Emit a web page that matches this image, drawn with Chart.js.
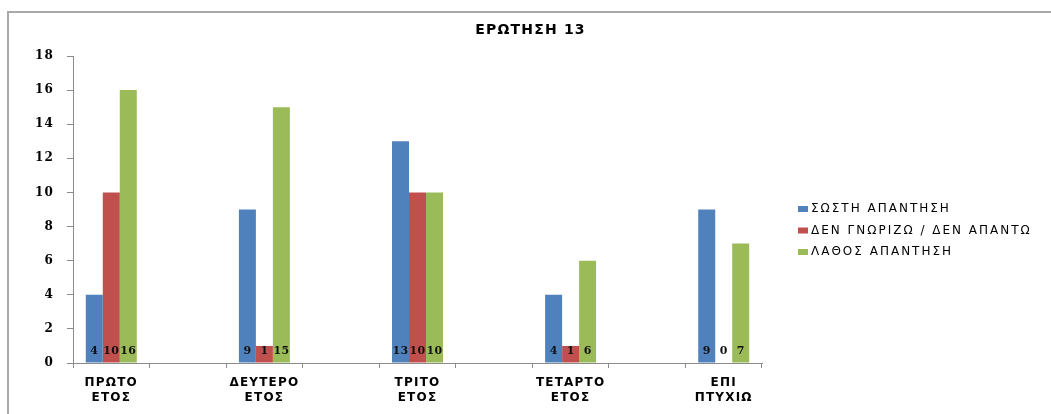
<!DOCTYPE html>
<html lang="el">
<head>
<meta charset="utf-8">
<title>ΕΡΩΤΗΣΗ 13</title>
<script src="https://cdn.jsdelivr.net/npm/chart.js@4.4.1/dist/chart.umd.min.js"></script>
<style>
    html, body { margin: 0; padding: 0; background: #fff; overflow: hidden; }
    .plaisio {
        position: absolute; left: 7px; top: 11px; width: 1100px; height: 450px;
        border-top: 2px solid #a9a9a9; border-left: 2px solid #a9a9a9;
    }
    .thesi { position: absolute; left: 0; top: 0; width: 1051px; height: 414px; }
</style>
</head>
<body>
<div class="plaisio"></div>
<div class="thesi"><canvas id="grafima"></canvas></div>
<script>
// ============================================
// ΕΡΩΤΗΣΗ 13 - ΑΠΑΝΤΗΣΕΙΣ ΑΝΑ ΕΤΟΣ
// ============================================

// Δεδομένα
const etos = [['ΠΡΩΤΟ', 'ΕΤΟΣ'], ['ΔΕΥΤΕΡΟ', 'ΕΤΟΣ'], ['ΤΡΙΤΟ', 'ΕΤΟΣ'], ['ΤΕΤΑΡΤΟ', 'ΕΤΟΣ'], ['ΕΠΙ', 'ΠΤΥΧΙΩ']];
const sosti = [4, 9, 13, 4, 9];
const denGnorizo = [10, 1, 10, 1, 0];
const lathos = [16, 15, 10, 6, 7];
const seires = ['ΣΩΣΤΗ ΑΠΑΝΤΗΣΗ', 'ΔΕΝ ΓΝΩΡΙΖΩ / ΔΕΝ ΑΠΑΝΤΩ', 'ΛΑΘΟΣ ΑΠΑΝΤΗΣΗ'];
const yTicks = [0, 2, 4, 6, 8, 10, 12, 14, 16, 18];

const xromata = ['#4F81BD', '#C0504D', '#9BBB59'];
const axonas = '#8c8c8c';

// κενή κατηγορία ανάμεσα σε κάθε έτος
function meKena(arr, keno) {
    return arr.flatMap((v, i) => i < arr.length - 1 ? [v, keno] : [v]);
}

// λίγο πιο αραιά γράμματα στα κείμενα του καμβά
const araiosi = {
    id: 'araiosi',
    beforeUpdate(chart) { chart.ctx.letterSpacing = '1.2px'; },
    beforeDraw(chart) { chart.ctx.letterSpacing = '1.2px'; }
};

// υπόμνημα δεξιά, σαν κουτί του layout
const ypomnima = {
    id: 'ypomnima',
    start(chart) {
        const box = {
            position: 'right',
            weight: 10,
            fullSize: false,
            options: {},
            width: 0,
            height: 0,
            isHorizontal() { return false; },
            update(maxWidth, maxHeight) {
                this.width = 289;
                this.height = maxHeight;
            },
            draw() {
                const ctx = chart.ctx;
                ctx.save();
                ctx.font = '12px "DejaVu Sans"';
                ctx.letterSpacing = '2px';
                ctx.textAlign = 'left';
                ctx.textBaseline = 'middle';
                chart.data.datasets.forEach((ds, i) => {
                    const y = this.top + 153 + i * 21.5;
                    ctx.fillStyle = ds.backgroundColor;
                    ctx.fillRect(this.left + 36, y - 3, 10, 6);
                    ctx.fillStyle = '#000';
                    ctx.fillText(ds.label, this.left + 49, y);
                });
                ctx.restore();
            }
        };
        Chart.layouts.addBox(chart, box);
    }
};

// τιμές στη βάση κάθε στήλης
const times = {
    id: 'times',
    afterDatasetsDraw(chart) {
        const ctx = chart.ctx;
        const y0 = chart.scales.y.getPixelForValue(0);
        ctx.save();
        ctx.font = 'bold 11px "DejaVu Serif"';
        ctx.letterSpacing = '0.3px';
        ctx.fillStyle = '#111';
        ctx.textAlign = 'center';
        ctx.textBaseline = 'middle';
        chart.data.datasets.forEach((ds, i) => {
            chart.getDatasetMeta(i).data.forEach((bar, j) => {
                const v = ds.data[j];
                if (v === null || v === undefined) return;
                ctx.fillText(String(v), bar.x, y0 - 12);
            });
        });
        ctx.restore();
    }
};

new Chart(document.getElementById('grafima'), {
    type: 'bar',
    data: {
        labels: meKena(etos, ''),
        datasets: [
            { label: seires[0], data: meKena(sosti, null), backgroundColor: xromata[0] },
            { label: seires[1], data: meKena(denGnorizo, null), backgroundColor: xromata[1] },
            { label: seires[2], data: meKena(lathos, null), backgroundColor: xromata[2] }
        ]
    },
    options: {
        responsive: true,
        maintainAspectRatio: false,
        animation: false,
        layout: { padding: { top: 14, left: 10, right: 0, bottom: 10 } },
        datasets: { bar: { categoryPercentage: 0.666, barPercentage: 1 } },
        plugins: {
            legend: { display: false },
            tooltip: { enabled: false },
            title: {
                display: true,
                text: 'ΕΡΩΤΗΣΗ 13',
                color: '#000',
                font: { family: 'DejaVu Sans', size: 14, weight: 'bold', lineHeight: 1.2 },
                padding: { top: 7.6, bottom: 17.6 }
            }
        },
        scales: {
            x: {
                grid: { drawOnChartArea: false, drawTicks: true, tickLength: 5, color: axonas, offset: true },
                border: { color: axonas },
                ticks: {
                    color: '#000',
                    padding: 7.8,
                    maxRotation: 0,
                    autoSkip: false,
                    font: { family: 'DejaVu Sans', size: 12, weight: 'bold', lineHeight: 1.2 }
                },
                afterFit: (s) => { s.height = 41; }
            },
            y: {
                min: 0,
                max: 18,
                grid: { drawOnChartArea: false, tickLength: 6, color: axonas },
                border: { color: axonas },
                ticks: {
                    color: '#000',
                    padding: 13,
                    font: { family: 'DejaVu Serif', size: 12, weight: 'bold' }
                },
                afterBuildTicks: (s) => { s.ticks = yTicks.map(v => ({ value: v })); },
                afterFit: (s) => { s.width = 63; }
            }
        }
    },
    plugins: [araiosi, ypomnima, times]
});
</script>
</body>
</html>
